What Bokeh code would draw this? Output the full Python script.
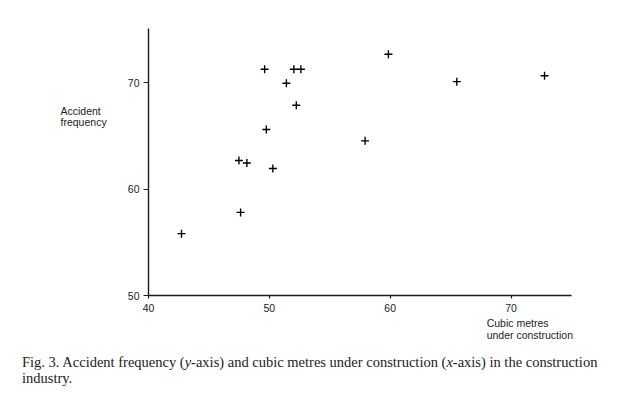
from bokeh.plotting import figure
from bokeh.models import Label, FixedTicker, Range1d, Div, ColumnDataSource, LinearAxis
from bokeh.layouts import column
from bokeh.embed import file_html
from bokeh.resources import INLINE

# Data
cubic_metres = [42.73, 47.62, 47.48, 48.14, 50.29, 49.75, 49.61, 51.41,
                52.03, 52.61, 52.23, 57.92, 59.85, 65.51, 72.77]
accident_freq = [55.82, 57.82, 62.70, 62.46, 61.95, 65.62, 71.29, 69.97,
                 71.29, 71.29, 67.90, 64.55, 72.70, 70.12, 70.68]
x_ticks = [40, 50, 60, 70]
y_ticks = [50, 60, 70]
x_bounds = (40, 75)
y_bounds = (50, 75.12)
y_label_lines = ["Accident", "frequency"]
x_label_lines = ["Cubic metres", "under construction"]
caption_line1 = ("Fig. 3. Accident frequency (<i>y</i>-axis) and cubic metres under "
                 "construction (<i>x</i>-axis) in the construction")
caption_line2 = "industry."

SANS = "Liberation Sans"
SERIF = "Liberation Serif"

W, H = 616, 354
FL, FR, FT, FB = 148, 571, 28, 295  # where the axes sit on the canvas
xs = (FR - FL) / (x_bounds[1] - x_bounds[0])
ys = (FB - FT) / (y_bounds[1] - y_bounds[0])
x_range = Range1d(x_bounds[0] - FL / xs, x_bounds[1] + (W - FR) / xs)
y_range = Range1d(y_bounds[0] - (H - FB) / ys, y_bounds[1] + FT / ys)

p = figure(width=W, height=H, output_backend="svg", toolbar_location=None,
           x_range=x_range, y_range=y_range, title=None,
           x_axis_location=None, y_axis_location=None, min_border=0)
p.outline_line_color = None
p.grid.visible = False
p.background_fill_color = "white"
p.border_fill_color = "white"

xaxis = LinearAxis(fixed_location=y_bounds[0], bounds=x_bounds)
yaxis = LinearAxis(fixed_location=x_bounds[0], bounds=y_bounds)
for ax, ticks, tick_out, standoff in ((xaxis, x_ticks, 3, 5), (yaxis, y_ticks, 5, 4)):
    ax.ticker = FixedTicker(ticks=ticks)
    ax.minor_tick_line_color = None
    ax.major_tick_in = 0
    ax.major_tick_out = tick_out
    ax.axis_line_color = "#1a1a1a"
    ax.axis_line_width = 1.4
    ax.major_tick_line_color = "#1a1a1a"
    ax.major_tick_line_width = 1.2
    ax.major_label_text_font = SANS
    ax.major_label_text_font_size = "10.5px"
    ax.major_label_text_color = "#222222"
    ax.major_label_standoff = standoff
p.add_layout(xaxis, "below")
p.add_layout(yaxis, "left")

src = ColumnDataSource(dict(x=cubic_metres, y=accident_freq))
p.scatter("x", "y", source=src, marker="cross", size=8, line_color="black",
          line_width=1.4)

# axis titles as annotations
for i, t in enumerate(y_label_lines):
    p.add_layout(Label(x=32.72, y=67.40 - i * 1.1, text=t, text_font=SANS,
                       text_font_size="10.5px", text_color="#222222",
                       text_baseline="alphabetic", text_align="left"))
for i, t in enumerate(x_label_lines):
    p.add_layout(Label(x=67.98, y=47.40 - i * 1.08, text=t, text_font=SANS,
                       text_font_size="10.5px", text_color="#222222",
                       text_baseline="alphabetic", text_align="left"))

cap = Div(text=('<div style="text-align: justify; text-align-last: justify">'
                + caption_line1 + '</div><div>' + caption_line2 + '</div>'),
          width=576, margin=(0, 0, 0, 22),
          styles={"font-family": SERIF, "font-size": "14.5px",
                  "line-height": "16.4px", "color": "#222222"})

layout = column(p, cap, spacing=0)
open("out.html", "w").write(file_html(layout, INLINE))
